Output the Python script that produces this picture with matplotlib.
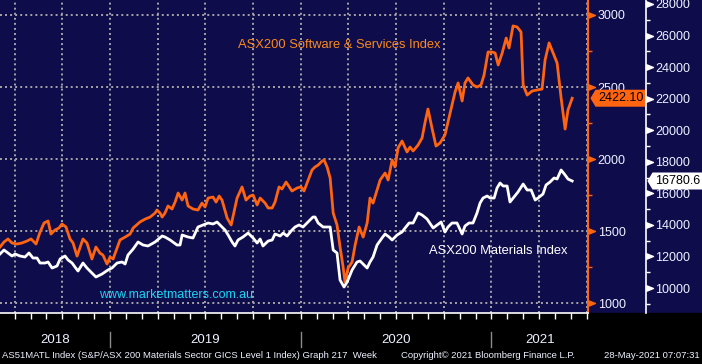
import numpy as np
import matplotlib.pyplot as plt
from matplotlib.path import Path
from matplotlib.patches import Rectangle
from matplotlib.ticker import MultipleLocator

plt.rcParams['font.family'] = ['Liberation Sans', 'DejaVu Sans']

# ASX200 Software & Services index (decimal year, level)
sw_t = [2018.423, 2018.444, 2018.465, 2018.486, 2018.512, 2018.538, 2018.565, 2018.586, 2018.612, 2018.633,
        2018.654, 2018.675, 2018.690, 2018.711, 2018.732, 2018.748, 2018.769, 2018.790, 2018.806, 2018.827,
        2018.858, 2018.879, 2018.905, 2018.926, 2018.947, 2018.963, 2018.984, 2019.000, 2019.016, 2019.037,
        2019.052, 2019.079, 2019.105, 2019.121, 2019.157, 2019.184, 2019.210, 2019.236, 2019.246, 2019.262,
        2019.273, 2019.288, 2019.304, 2019.325, 2019.341, 2019.357, 2019.378, 2019.393, 2019.409, 2019.435,
        2019.461, 2019.482, 2019.498, 2019.514, 2019.540, 2019.556, 2019.572, 2019.587, 2019.614, 2019.635,
        2019.666, 2019.692, 2019.713, 2019.734, 2019.750, 2019.771, 2019.787, 2019.813, 2019.829, 2019.850,
        2019.865, 2019.886, 2019.902, 2019.923, 2019.954, 2019.981, 2020.002, 2020.017, 2020.059, 2020.075,
        2020.091, 2020.112, 2020.122, 2020.138, 2020.154, 2020.170, 2020.190, 2020.206, 2020.222, 2020.232,
        2020.248, 2020.269, 2020.285, 2020.306, 2020.327, 2020.348, 2020.363, 2020.379, 2020.416, 2020.442,
        2020.458, 2020.479, 2020.494, 2020.510, 2020.531, 2020.557, 2020.573, 2020.589, 2020.615, 2020.636,
        2020.652, 2020.667, 2020.688, 2020.709, 2020.730, 2020.756, 2020.772, 2020.793, 2020.809, 2020.825,
        2020.846, 2020.861, 2020.877, 2020.903, 2020.924, 2020.945, 2020.961, 2020.982, 2021.003, 2021.019,
        2021.035, 2021.056, 2021.077, 2021.092, 2021.113, 2021.134, 2021.155, 2021.166, 2021.187, 2021.213,
        2021.239, 2021.265, 2021.281, 2021.302, 2021.323, 2021.344, 2021.365, 2021.386, 2021.401, 2021.423]
sw_v = [1389, 1424, 1445, 1417, 1410, 1417, 1431, 1445, 1410, 1493,
        1556, 1570, 1479, 1507, 1521, 1549, 1528, 1445, 1417, 1326,
        1445, 1417, 1306, 1389, 1347, 1333, 1271, 1320, 1306, 1382,
        1438, 1458, 1479, 1521, 1563, 1583, 1597, 1625, 1646, 1625,
        1597, 1625, 1674, 1653, 1701, 1764, 1715, 1764, 1674, 1653,
        1646, 1694, 1667, 1729, 1736, 1701, 1743, 1715, 1590, 1542,
        1729, 1806, 1715, 1743, 1750, 1681, 1729, 1694, 1660, 1660,
        1701, 1806, 1792, 1840, 1778, 1799, 1806, 1778, 1924, 1945,
        1958, 1986, 1993, 1945, 1868, 1625, 1542, 1389, 1250, 1146,
        1243, 1285, 1403, 1528, 1458, 1556, 1729, 1694, 1854, 1903,
        1854, 1993, 1945, 2076, 2125, 2049, 2083, 2056, 2097, 2146,
        2257, 2347, 2215, 2090, 2111, 2167, 2257, 2375, 2465, 2528,
        2403, 2528, 2563, 2514, 2500, 2514, 2583, 2743, 2743, 2736,
        2653, 2736, 2840, 2771, 2924, 2917, 2882, 2514, 2444, 2472,
        2479, 2486, 2688, 2806, 2736, 2667, 2424, 2208, 2340, 2422.10]

# ASX200 Materials index (decimal year, level)
mat_t = [2018.423, 2018.444, 2018.465, 2018.486, 2018.502, 2018.528, 2018.554, 2018.575, 2018.596, 2018.617,
         2018.633, 2018.659, 2018.675, 2018.696, 2018.722, 2018.738, 2018.764, 2018.780, 2018.801, 2018.816,
         2018.832, 2018.858, 2018.879, 2018.905, 2018.926, 2018.958, 2018.989, 2019.010, 2019.037, 2019.063,
         2019.079, 2019.094, 2019.121, 2019.147, 2019.173, 2019.199, 2019.236, 2019.273, 2019.288, 2019.315,
         2019.351, 2019.367, 2019.378, 2019.409, 2019.435, 2019.461, 2019.487, 2019.514, 2019.540, 2019.561,
         2019.577, 2019.603, 2019.619, 2019.640, 2019.655, 2019.671, 2019.697, 2019.724, 2019.750, 2019.771,
         2019.787, 2019.802, 2019.829, 2019.850, 2019.865, 2019.892, 2019.908, 2019.928, 2019.954, 2019.970,
         2019.991, 2020.012, 2020.038, 2020.064, 2020.075, 2020.091, 2020.117, 2020.154, 2020.170, 2020.190,
         2020.206, 2020.227, 2020.243, 2020.269, 2020.295, 2020.311, 2020.327, 2020.348, 2020.363, 2020.379,
         2020.400, 2020.426, 2020.442, 2020.463, 2020.479, 2020.505, 2020.531, 2020.547, 2020.568, 2020.589,
         2020.615, 2020.636, 2020.662, 2020.694, 2020.715, 2020.736, 2020.756, 2020.772, 2020.793, 2020.819,
         2020.846, 2020.861, 2020.882, 2020.903, 2020.924, 2020.940, 2020.956, 2020.977, 2020.993, 2021.014,
         2021.029, 2021.045, 2021.061, 2021.082, 2021.097, 2021.118, 2021.139, 2021.166, 2021.187, 2021.208,
         2021.229, 2021.244, 2021.270, 2021.286, 2021.307, 2021.328, 2021.344, 2021.365, 2021.386, 2021.401,
         2021.423]
mat_v = [12155, 12408, 12218, 12028, 12155, 12028, 11964, 12218, 11901, 11901,
         11584, 11584, 11648, 11267, 11394, 11838, 12028, 11774, 11584, 11331,
         11077, 11584, 11267, 10951, 10697, 10887, 11141, 11267, 11584, 11648,
         11521, 12091, 12471, 12915, 12725, 12662, 12915, 13295, 13232, 13042,
         12725, 12725, 13359, 13232, 13169, 13866, 13992, 14119, 14056, 14182,
         13992, 13675, 13359, 12915, 12662, 13042, 13232, 13485, 13169, 12852,
         13105, 12662, 12978, 13042, 13422, 13295, 13485, 13295, 13675, 13866,
         13992, 13866, 14182, 14499, 14499, 14119, 13866, 13866, 12408, 12218,
         10507, 10063, 10380, 11141, 11648, 11711, 11521, 11267, 11648, 11964,
         12725, 13169, 13422, 13232, 13042, 13359, 13549, 13802, 14119, 14119,
         14753, 14626, 14373, 13802, 13992, 14182, 13549, 13866, 14119, 14119,
         13422, 13929, 14119, 14119, 14753, 15386, 15703, 15830, 15703, 15703,
         16337, 16654, 16464, 16464, 15450, 15767, 16084, 16590, 16210, 16210,
         15577, 15703, 15957, 16527, 16717, 16971, 16907, 17478, 17161, 16907,
         16780.6]

years = [2018, 2019, 2020, 2021]
x_lo, x_hi = 2018.423, 2021.506
sw_lim = (931, 3104)
mat_lim = (8416, 28251)

navy = '#0f0c4c'
orange = '#ff6410'
orange_txt = '#fb8a1a'
lab_col = '#eef2ff'
grid_col = '#a6a6a6'

fig = plt.figure(figsize=(7.02, 3.64), dpi=100, facecolor=navy)
fig.add_artist(Rectangle((0, 0), 1, 51 / 364, transform=fig.transFigure,
                         color='black', zorder=-1))
ax = fig.add_axes([0, 51 / 364, 588 / 702, 313 / 364])
ax.set_facecolor(navy)
ax2 = ax.twinx()

ax.plot(sw_t, sw_v, color=orange, lw=2.0, zorder=3)
ax2.plot(mat_t, mat_v, color='white', lw=2.0)

ax.set_xlim(x_lo, x_hi)
ax.set_ylim(*sw_lim)
ax2.set_ylim(*mat_lim)

# orange (software) axis on the right spine
ax.yaxis.tick_right()
ax.set_yticks(np.arange(1000, 3001, 500))
ax.yaxis.set_minor_locator(MultipleLocator(250))
ax.tick_params(axis='y', which='major', length=0, pad=7, labelsize=9, labelcolor=lab_col)
ax.tick_params(axis='y', which='minor', length=3, width=1, color=orange)
for s in ['left', 'top']:
    ax.spines[s].set_visible(False)
ax.spines['right'].set_color(orange)
ax.spines['right'].set_linewidth(1.5)
ax.spines['bottom'].set_color('white')
ax.spines['bottom'].set_linewidth(1.2)

ax.set_xticks(np.arange(2018.5, x_hi, 0.25))
ax.set_xticks(np.arange(2018.5, x_hi, 1 / 12), minor=True)
ax.tick_params(axis='x', which='both', length=4, width=1, color='white',
               direction='out', labelbottom=False)
ax.grid(True, which='major', color=grid_col, ls=(0, (1, 1.6)), lw=1.4)
ax.set_axisbelow(True)

# white (materials) axis further right
ax2.spines['right'].set_position(('axes', 646 / 588))
ax2.spines['right'].set_color('white')
ax2.spines['right'].set_linewidth(1.2)
for s in ['left', 'top', 'bottom']:
    ax2.spines[s].set_visible(False)
ax2.set_yticks(np.arange(10000, 28001, 2000))
ax2.yaxis.set_minor_locator(MultipleLocator(1000))
ax2.tick_params(axis='y', which='major', length=0, pad=6.5, labelsize=9, labelcolor=lab_col)
ax2.tick_params(axis='y', which='minor', length=3, width=1, color='white')

# triangle tick marks
tri = Path([(0, -0.4), (1, 0), (0, 0.4), (0, -0.4)], closed=True)
t1 = ax.get_yticks()
ax.plot(np.ones(len(t1)), t1, ls='none', marker=tri, ms=10, color=orange,
        transform=ax.get_yaxis_transform(), clip_on=False)
t2 = ax2.get_yticks()
ax2.plot(np.full(len(t2), 646 / 588), t2, ls='none', marker=tri, ms=10, color='white',
         transform=ax2.get_yaxis_transform(), clip_on=False)

# year labels under the axis
xt = ax.get_xaxis_transform()
for yr in years:
    a, b = max(yr, x_lo), min(yr + 1, x_hi)
    ax.text((a + b) / 2, -0.086, str(yr), transform=xt, ha='center', va='center',
            color=lab_col, fontsize=9.5)
for yr in years[1:]:
    ax.plot([yr, yr], [-0.061, -0.109], transform=xt, color='#8a8a8a', lw=1, clip_on=False)

# series names
ax.text(238 / 588, 1 - 45 / 313, 'ASX200 Software & Services Index', transform=ax.transAxes,
        color=orange_txt, fontsize=9.3, va='center', ha='left')
ax.text(429 / 588, 1 - 251 / 313, 'ASX200 Materials Index', transform=ax.transAxes,
        color='white', fontsize=9.3, va='center', ha='left')
ax.text(99 / 588, 1 - 295 / 313, 'www.marketmatters.com.au', transform=ax.transAxes,
        color='#19d6f5', fontsize=9, va='center', ha='left')


def tag_box(x0, y0, width, height, mutation_size):
    pad = 0.2 * mutation_size
    x0, y0 = x0 - pad, y0 - pad
    x1, y1 = x0 + width + 2 * pad, y0 + height + 2 * pad
    h = (y1 - y0) / 2
    return Path([(x0, y0), (x1, y0), (x1, y1), (x0, y1), (x0 - 0.6 * h, y0 + h), (x0, y0)],
                closed=True)


ax.text(598 / 588, sw_v[-1], f'{sw_v[-1]:.2f}', transform=ax.get_yaxis_transform(),
        color='black', fontsize=9, ha='left', va='center', zorder=5, clip_on=False,
        bbox=dict(boxstyle=tag_box, fc=orange, ec='none'))
ax2.text(655 / 588, mat_v[-1], f'{mat_v[-1]:.1f}', transform=ax2.get_yaxis_transform(),
         color='black', fontsize=9, ha='left', va='center', zorder=5, clip_on=False,
         bbox=dict(boxstyle=tag_box, fc='white', ec='none'))

# footer
fig.text(2 / 702, 8 / 364, 'AS51MATL Index (S&P/ASX 200 Materials Sector GICS Level 1 Index) Graph 217  Week',
         color=lab_col, fontsize=6.8, ha='left', va='center')
fig.text(401 / 702, 8 / 364, 'Copyright\u00a9 2021 Bloomberg Finance L.P.',
         color=lab_col, fontsize=6.8, ha='left', va='center')
fig.text(700 / 702, 8 / 364, '28-May-2021 07:07:31',
         color=lab_col, fontsize=6.8, ha='right', va='center')

fig.savefig('out.png', dpi=100, facecolor=fig.get_facecolor())
